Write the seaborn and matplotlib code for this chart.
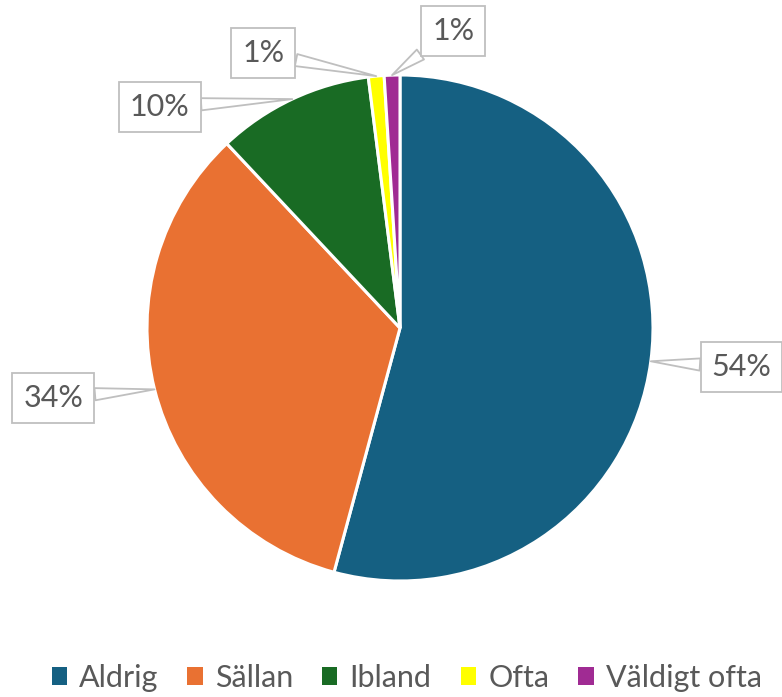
import numpy as np
import matplotlib
matplotlib.use("Agg")
import matplotlib.pyplot as plt
from matplotlib.patches import Patch
import seaborn as sns

# data
categories = ["Aldrig", "Sällan", "Ibland", "Ofta", "Väldigt ofta"]
shares = [54.2, 33.8, 10.0, 1.0, 1.0]
labels = ["54%", "34%", "10%", "1%", "1%"]
colors = ["#156082", "#E97132", "#196B24", "#FFFF00", "#A02B93"]

# where each callout box sits (in pie radii, relative to centre)
label_pos = [(1.35, -0.155), (-1.37, -0.275), (-0.95, 0.875), (-0.54, 1.085), (0.21, 1.175)]

TEXT = "#595959"
GRID = "#BFBFBF"

sns.set_theme(style="white")
plt.rcParams["font.family"] = ["Lato", "DejaVu Sans"]

fig = plt.figure(figsize=(7.82, 6.97), dpi=100)
ax = fig.add_axes([0, 0, 1, 1])

wedges, _ = ax.pie(
    shares,
    colors=colors,
    startangle=90,
    counterclock=False,
    radius=1.0,
    wedgeprops=dict(edgecolor="white", linewidth=2.2),
)
# pie() resets the limits, so set them afterwards
ax.set_aspect("equal")
ax.set_xlim(-400 / 253, 382 / 253)
ax.set_ylim(-369 / 253, 328 / 253)
ax.axis("off")

for w, lab, (tx, ty) in zip(wedges, labels, label_pos):
    mid = np.deg2rad((w.theta1 + w.theta2) / 2)
    ax.annotate(
        lab,
        xy=(np.cos(mid), np.sin(mid)),
        xytext=(tx, ty),
        ha="center",
        va="center",
        fontsize=22,
        color=TEXT,
        bbox=dict(boxstyle="square,pad=0.36", fc="white", ec=GRID, lw=1.3),
        arrowprops=dict(arrowstyle="wedge,tail_width=0.4", fc="white", ec=GRID, lw=1.3,
                        shrinkA=0, shrinkB=0),
    )

handles = [Patch(facecolor=c, edgecolor="none") for c in colors]
fig.legend(
    handles,
    categories,
    loc="lower center",
    bbox_to_anchor=(0.52, -0.01),
    ncol=5,
    frameon=False,
    fontsize=22,
    labelcolor=TEXT,
    handlelength=0.5,
    handleheight=0.55,
    handletextpad=0.4,
    columnspacing=0.95,
    borderaxespad=0.0,
)

fig.savefig("out.png", dpi=100)
